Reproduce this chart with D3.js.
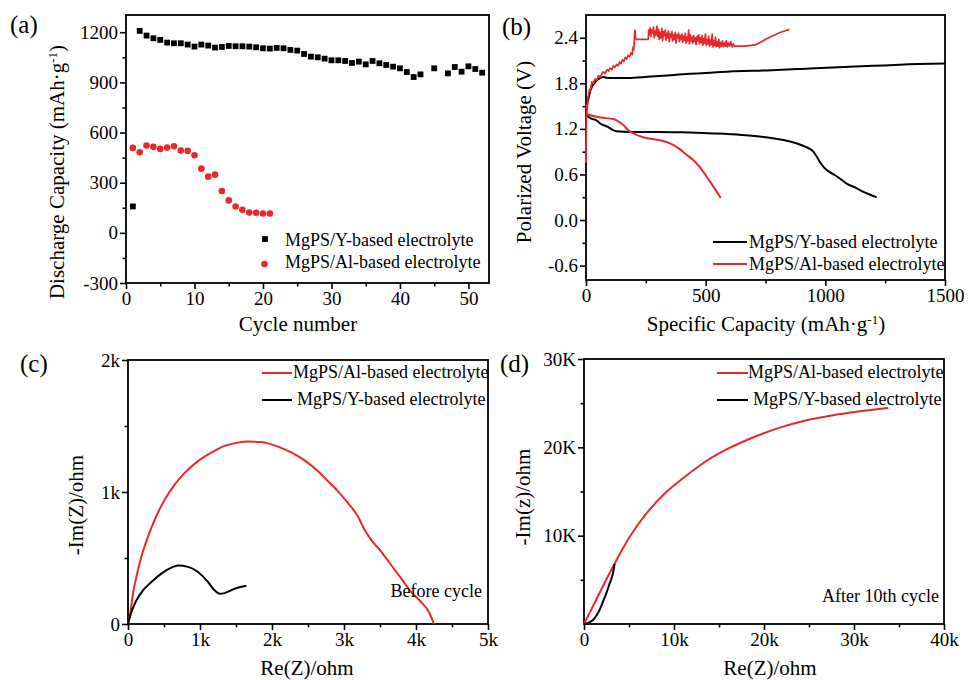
<!DOCTYPE html>
<html><head><meta charset="utf-8">
<script src="https://cdn.jsdelivr.net/npm/d3@7"></script>
<style>
body{margin:0;background:#fff}
svg text{font-family:"Liberation Serif","Times New Roman",serif;fill:#000}
</style>
</head><body>
<svg id="chart" width="968" height="680"></svg>
<script>
// ---------- Panel (a): discharge capacity vs cycle ----------
const cycleY = [1,2,3,4,5,6,7,8,9,10,11,12,13,14,15,16,17,18,19,20,21,22,23,24,25,26,27,28,29,30,31,32,33,34,35,36,37,38,39,40,41,42,43,45,47,48,49,50,51,52];
const capY = [158,1208,1180,1164,1154,1138,1134,1134,1126,1114,1126,1120,1108,1112,1118,1116,1116,1114,1110,1104,1102,1106,1104,1094,1090,1070,1054,1050,1042,1032,1032,1028,1016,1024,1008,1028,1014,1004,994,984,962,932,948,984,954,992,964,996,980,958];
const cycleAl = [1,2,3,4,5,6,7,8,9,10,11,12,13,14,15,16,17,18,19,20,21];
const capAl = [508,482,522,514,502,510,518,492,490,464,384,336,348,250,194,158,138,122,120,116,116];
const ticksA_x = [0,10,20,30,40,50];
const ticksA_y = [-300,0,300,600,900,1200];

// ---------- Panel (b): voltage profiles ----------
const chargeY = [[0,1.38],[3,1.48],[6,1.54],[10,1.60],[16,1.68],[24,1.75],[34,1.80],[45,1.84],[58,1.87],[72,1.885],[85,1.875],[100,1.87],[150,1.87],[200,1.875],[250,1.885],[323,1.90],[434,1.925],[500,1.935],[600,1.955],[755,1.97],[900,1.99],[1032,2.01],[1200,2.03],[1312,2.045],[1500,2.06]];
const dischargeY = [[0,1.38],[20,1.34],[45,1.31],[65,1.26],[86,1.235],[110,1.19],[128,1.17],[184,1.16],[300,1.16],[400,1.155],[532,1.14],[650,1.12],[741,1.094],[830,1.05],[880,1.01],[920,0.96],[950,0.90],[965,0.83],[978,0.76],[995,0.69],[1019,0.63],[1050,0.57],[1089,0.48],[1130,0.42],[1159,0.37],[1190,0.33],[1215,0.30]];
const chargeAl = [[0,0.75],[1,1.10],[2,1.40],[3,1.52],[5,1.45],[7,1.60],[10,1.64],[14,1.72],[18,1.70],[24,1.82],[30,1.80],[38,1.86],[45,1.84],[52,1.90],[60,1.88],[66,1.93],[72,1.95],[80,1.93],[88,1.98],[95,1.96],[100,2.00],[108,1.98],[114,2.03],[120,2.01],[128,2.05],[134,2.03],[140,2.08],[146,2.06],[152,2.11],[158,2.09],[164,2.14],[170,2.12],[176,2.17],[182,2.15],[188,2.20],[193,2.18],[197,2.28],[200,2.24],[203,2.46],[205,2.50],[207,2.40],[210,2.38],[260,2.38],[262,2.50],[265,2.44],[268,2.53],[271,2.42],[274,2.50],[278,2.46],[282,2.54],[285,2.40],[289,2.49],[292,2.44],[296,2.55],[299,2.42],[303,2.51],[306,2.38],[310,2.47],[313,2.40],[317,2.52],[320,2.36],[324,2.48],[327,2.43],[331,2.50],[334,2.37],[338,2.46],[341,2.40],[345,2.49],[348,2.35],[352,2.45],[355,2.41],[359,2.48],[362,2.36],[366,2.44],[369,2.38],[373,2.47],[376,2.33],[380,2.44],[383,2.40],[387,2.46],[390,2.35],[394,2.43],[397,2.38],[401,2.45],[404,2.34],[408,2.42],[411,2.37],[415,2.46],[418,2.33],[422,2.41],[425,2.36],[429,2.50],[432,2.32],[436,2.44],[439,2.36],[443,2.41],[446,2.33],[450,2.43],[453,2.35],[457,2.40],[460,2.31],[464,2.42],[467,2.36],[471,2.44],[474,2.32],[478,2.40],[481,2.34],[485,2.43],[488,2.30],[492,2.39],[495,2.33],[499,2.45],[502,2.30],[506,2.38],[509,2.32],[513,2.42],[516,2.29],[520,2.37],[523,2.31],[527,2.45],[530,2.28],[534,2.36],[537,2.30],[541,2.41],[544,2.28],[548,2.35],[551,2.29],[555,2.38],[558,2.27],[562,2.34],[566,2.29],[570,2.36],[574,2.28],[578,2.33],[582,2.29],[586,2.36],[590,2.28],[595,2.33],[600,2.29],[605,2.35],[610,2.28],[615,2.32],[620,2.29],[630,2.29],[660,2.29],[690,2.30],[710,2.31],[730,2.34],[750,2.38],[770,2.41],[790,2.44],[810,2.47],[830,2.49],[850,2.51]];
const dischargeAl = [[0,1.40],[30,1.37],[60,1.35],[114,1.33],[140,1.29],[156,1.25],[175,1.19],[198,1.14],[239,1.09],[309,1.05],[351,1.01],[393,0.93],[420,0.86],[448,0.79],[480,0.68],[504,0.57],[530,0.45],[563,0.29]];
const ticksB_x = [0,500,1000,1500];
const ticksB_y = [-0.6,0,0.6,1.2,1.8,2.4];

// ---------- Panel (c): EIS before cycle ----------
const eisBeforeAl = [[0,0],[37,100],[69,229],[116,356],[185,509],[278,662],[370,789],[509,941],[648,1056],[787,1145],[972,1234],[1157,1298],[1343,1349],[1528,1374],[1667,1382],[1852,1379],[1991,1361],[2176,1323],[2361,1272],[2500,1221],[2639,1158],[2778,1081],[2917,1005],[3056,916],[3194,814],[3287,712],[3380,636],[3519,547],[3657,445],[3796,344],[3935,242],[4074,165],[4167,102],[4250,0]];
const eisBeforeY = [[0,0],[46,89],[116,178],[208,254],[324,318],[463,382],[602,427],[694,443],[833,433],[972,394],[1111,318],[1204,254],[1273,229],[1343,234],[1481,267],[1644,290]];
const ticksC_x = [0,1000,2000,3000,4000,5000];
const ticksC_y = [0,1000,2000];

// ---------- Panel (d): EIS after 10th cycle ----------
const eisAfterAl = [[0,0],[600,1200],[1700,3450],[3200,6450],[5100,9900],[7000,12600],[9000,14800],[11000,16500],[13500,18400],[16000,19850],[18500,21000],[21500,22150],[24500,23000],[27500,23600],[30500,24050],[33800,24450]];
const eisAfterY = [[0,0],[500,150],[1000,450],[1400,1000],[1740,1600],[2100,2500],[2480,3480],[2850,4600],[3220,5740],[3400,6800]];
const ticksD_x = [0,10000,20000,30000,40000];
const ticksD_y = [10000,20000,30000];

const labelY = "MgPS/Y-based electrolyte";
const labelAl = "MgPS/Al-based electrolyte";

const RED = "#e8282a";
const svg = d3.select("#chart");
const FONT = '"Liberation Serif","Times New Roman",serif';

function styleAxis(s){
  s.attr("font-family", FONT).attr("font-size", 19);
  s.selectAll(".domain").remove();
  s.selectAll("line").attr("stroke","#000").attr("stroke-width",1.6);
  s.selectAll("text").attr("fill","#000");
}
function minorVals(major, step){
  const out=[]; for(let i=0;i<major.length-1;i++){out.push(major[i]+step);} return out;
}
function panel(o){
  const x = d3.scaleLinear().domain(o.xd).range([o.l,o.r]);
  const y = d3.scaleLinear().domain(o.yd).range([o.b,o.t]);
  const g = svg.append("g");
  g.append("g").attr("transform",`translate(0,${o.b})`)
    .call(d3.axisBottom(x).tickValues(o.xm).tickSize(3.5).tickFormat("")).call(styleAxis);
  g.append("g").attr("transform",`translate(${o.l},0)`)
    .call(d3.axisLeft(y).tickValues(o.ym).tickSize(3.5).tickFormat("")).call(styleAxis);
  g.append("g").attr("transform",`translate(0,${o.b})`)
    .call(d3.axisBottom(x).tickValues(o.xt).tickSize(6).tickPadding(3).tickFormat(o.xf)).call(styleAxis);
  g.append("g").attr("transform",`translate(${o.l},0)`)
    .call(d3.axisLeft(y).tickValues(o.yt).tickSize(6).tickPadding(2).tickFormat(o.yf)).call(styleAxis);
  g.append("rect").attr("x",o.l).attr("y",o.t).attr("width",o.r-o.l).attr("height",o.b-o.t)
    .attr("fill","none").attr("stroke","#000").attr("stroke-width",1.8);
  return {x,y,g};
}
function text(x,y,str,size,anchor){
  return svg.append("text").attr("x",x).attr("y",y).attr("font-size",size)
    .attr("text-anchor",anchor||"start").attr("font-family",FONT).text(str);
}
function vtext(cx,cy,size){
  return svg.append("text").attr("transform",`translate(${cx},${cy}) rotate(-90)`)
    .attr("font-size",size).attr("text-anchor","middle").attr("font-family",FONT);
}
function legLine(x1,x2,y,color){
  svg.append("line").attr("x1",x1).attr("x2",x2).attr("y1",y).attr("y2",y)
    .attr("stroke",color).attr("stroke-width",2);
}

// ===== (a) =====
const A = panel({l:126,r:489,t:15,b:283,xd:[0,53],yd:[-300,1303],
  xt:ticksA_x, xm:minorVals(ticksA_x,5), yt:ticksA_y, ym:minorVals(ticksA_y,150),
  xf:d=>String(d), yf:d=>String(d)});
A.g.append("g").selectAll("rect").data(cycleY.map((c,i)=>[c,capY[i]])).join("rect")
  .attr("x",d=>A.x(d[0])-2.9).attr("y",d=>A.y(d[1])-2.9).attr("width",5.8).attr("height",5.8).attr("fill","#000");
A.g.append("g").selectAll("circle").data(cycleAl.map((c,i)=>[c,capAl[i]])).join("circle")
  .attr("cx",d=>A.x(d[0])).attr("cy",d=>A.y(d[1])).attr("r",3.3).attr("fill",RED);
svg.append("rect").attr("x",262.1).attr("y",236.1).attr("width",5.8).attr("height",5.8).attr("fill","#000");
svg.append("circle").attr("cx",264.5).attr("cy",264).attr("r",3.3).attr("fill",RED);
text(285,246,labelY,18);
text(285,268,labelAl,18);
text(298,331,"Cycle number",21,"middle");
{
  const t = vtext(64,172,21);
  t.append("tspan").text("Discharge Capacity (mAh·g");
  t.append("tspan").attr("dy",-7).attr("font-size",13).text("-1");
  t.append("tspan").attr("dy",7).text(")");
}
text(10,33,"(a)",25);

// ===== (b) =====
const B = panel({l:586,r:945,t:15,b:280,xd:[0,1500],yd:[-0.79,2.7],
  xt:ticksB_x, xm:minorVals(ticksB_x,250), yt:ticksB_y, ym:minorVals(ticksB_y,0.3),
  xf:d=>String(d), yf:d=>d.toFixed(1)});
const lineB = d3.line().x(d=>B.x(d[0])).y(d=>B.y(d[1]));
const lineBs = d3.line().x(d=>B.x(d[0])).y(d=>B.y(d[1])).curve(d3.curveMonotoneX);
B.g.append("path").attr("d",lineBs(chargeY)).attr("fill","none").attr("stroke","#000").attr("stroke-width",2);
B.g.append("path").attr("d",lineBs(dischargeY)).attr("fill","none").attr("stroke","#000").attr("stroke-width",2);
B.g.append("path").attr("d",lineBs(dischargeAl)).attr("fill","none").attr("stroke",RED).attr("stroke-width",2);
B.g.append("path").attr("d",lineB(chargeAl)).attr("fill","none").attr("stroke",RED).attr("stroke-width",1.7).attr("stroke-linejoin","round");
legLine(713,747,242,"#000");
legLine(713,747,264,RED);
text(749,248,labelY,18);
text(749,270,labelAl,18);
{
  const t = svg.append("text").attr("x",766).attr("y",331).attr("font-size",21).attr("text-anchor","middle").attr("font-family",FONT);
  t.append("tspan").text("Specific Capacity (mAh·g");
  t.append("tspan").attr("dy",-7).attr("font-size",13).text("-1");
  t.append("tspan").attr("dy",7).text(")");
}
vtext(531,152,21).text("Polarized Voltage (V)");
text(502,35,"(b)",25);

// ===== (c) =====
const kf = d => d===0 ? "0" : (d/1000)+"k";
const C = panel({l:128,r:488,t:360,b:624,xd:[0,5000],yd:[0,2000],
  xt:ticksC_x, xm:minorVals(ticksC_x,500), yt:ticksC_y, ym:minorVals(ticksC_y,500),
  xf:kf, yf:kf});
const lineC = d3.line().x(d=>C.x(d[0])).y(d=>C.y(d[1])).curve(d3.curveMonotoneX);
C.g.append("path").attr("d",lineC(eisBeforeAl)).attr("fill","none").attr("stroke",RED).attr("stroke-width",2);
C.g.append("path").attr("d",lineC(eisBeforeY)).attr("fill","none").attr("stroke","#000").attr("stroke-width",2);
legLine(262,292,373,RED);
legLine(262,292,400,"#000");
text(293,378,labelAl,18);
text(297,405,labelY,18);
text(482,597,"Before cycle",18,"end");
text(307,675,"Re(Z)/ohm",21,"middle");
vtext(83,505,21).text("-Im(Z)/ohm");
text(20,372,"(c)",25);

// ===== (d) =====
const D = panel({l:584,r:944,t:359,b:624,xd:[0,40000],yd:[0,30000],
  xt:ticksD_x, xm:minorVals(ticksD_x,5000), yt:ticksD_y, ym:[5000,15000,25000],
  xf:kf, yf:d=>(d/1000)+"K"});
const lineD = d3.line().x(d=>D.x(d[0])).y(d=>D.y(d[1])).curve(d3.curveMonotoneX);
D.g.append("path").attr("d",lineD(eisAfterAl)).attr("fill","none").attr("stroke",RED).attr("stroke-width",2);
D.g.append("path").attr("d",lineD(eisAfterY)).attr("fill","none").attr("stroke","#000").attr("stroke-width",2);
legLine(717,748,373,RED);
legLine(717,748,400,"#000");
text(748,378,labelAl,18);
text(753,405,labelY,18);
text(939,602,"After 10th cycle",18,"end");
text(770,675,"Re(Z)/ohm",21,"middle");
vtext(530,497,21).text("-Im(z)/ohm");
text(500,372,"(d)",25);
</script>
</body></html>
